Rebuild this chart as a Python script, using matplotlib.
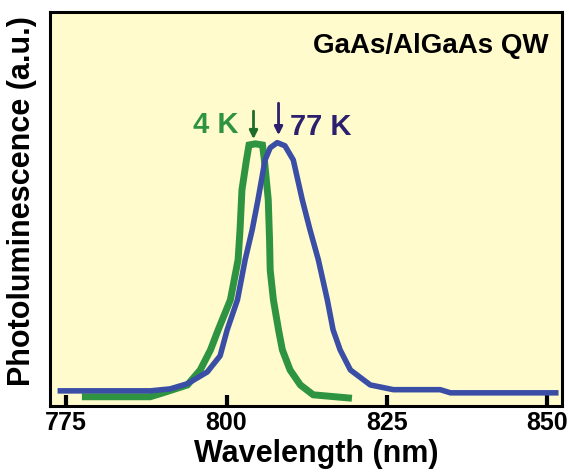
import numpy as np
import matplotlib.pyplot as plt

# 77 K spectrum (blue)
wl_77 = [774.1, 788.1, 791.2, 793.9, 797.0, 799.0, 800.1, 801.7, 802.9, 804.0,
         804.9, 806.0, 806.8, 807.9, 809.1, 810.4, 811.8, 813.0, 814.3, 815.7,
         816.6, 817.7, 819.3, 822.4, 826.0, 833.3, 834.9, 851.3]
pl_77 = [0.038, 0.038, 0.043, 0.056, 0.086, 0.127, 0.193, 0.269, 0.371, 0.447,
         0.523, 0.624, 0.655, 0.668, 0.660, 0.624, 0.523, 0.447, 0.371, 0.269,
         0.193, 0.142, 0.091, 0.053, 0.041, 0.041, 0.033, 0.033]

# 4 K spectrum (green)
wl_4 = [778.0, 788.1, 790.1, 793.9, 795.9, 797.5, 798.7, 800.6, 801.8, 802.1,
        802.4, 803.1, 803.5, 804.5, 805.6, 805.9, 806.5, 806.7, 806.8, 807.3,
        808.1, 808.7, 809.9, 811.5, 813.5, 819.0]
pl_4 = [0.023, 0.023, 0.033, 0.053, 0.091, 0.142, 0.193, 0.269, 0.371, 0.447,
        0.548, 0.624, 0.662, 0.665, 0.662, 0.624, 0.523, 0.421, 0.345, 0.269,
        0.193, 0.142, 0.091, 0.053, 0.028, 0.020]

xticks = [775, 800, 825, 850]

blue = "#3a4ea6"
green = "#2f9441"
navy = "#2b1f6e"

plt.rcParams['font.family'] = ['Liberation Sans', 'DejaVu Sans']

fig = plt.figure(figsize=(5.69, 4.73), dpi=100)
ax = fig.add_axes([0.088, 0.142, 0.900, 0.833])
ax.set_facecolor("#fffbcc")

ax.plot(wl_4, pl_4, color=green, lw=5, solid_joinstyle="miter", zorder=2)
ax.plot(wl_77, pl_77, color=blue, lw=4, zorder=3)

ax.set_xlim(772.5, 852.3)
ax.set_ylim(0, 1)
ax.set_xticks(xticks)
ax.set_yticks([])
ax.tick_params(axis="x", direction="in", length=8, width=3, labelsize=18, pad=4)
for lbl in ax.get_xticklabels():
    lbl.set_fontweight("bold")
for s in ax.spines.values():
    s.set_linewidth(2.2)

ax.set_xlabel("Wavelength (nm)", fontsize=22, fontweight="bold")
ax.xaxis.set_label_coords(0.52, -0.085)
ax.set_ylabel("Photoluminescence (a.u.)", fontsize=22, fontweight="bold")
ax.yaxis.set_label_coords(-0.025, 0.52)

ax.text(0.973, 0.912, "GaAs/AlGaAs QW", transform=ax.transAxes, ha="right",
        va="center", fontsize=20, fontweight="bold")

ax.text(801.8, 0.713, "4 K", color=green, fontsize=21, fontweight="bold",
        ha="right", va="center")
ax.text(809.9, 0.708, "77 K", color=navy, fontsize=21, fontweight="bold",
        ha="left", va="center")

ax.annotate("", xy=(804.2, 0.670), xytext=(804.2, 0.755),
            arrowprops=dict(arrowstyle="-|>", color="#1f6b2a", lw=2, mutation_scale=12))
ax.annotate("", xy=(808.1, 0.680), xytext=(808.1, 0.775),
            arrowprops=dict(arrowstyle="-|>", color=navy, lw=2, mutation_scale=12))

fig.savefig("out.png", dpi=100)
